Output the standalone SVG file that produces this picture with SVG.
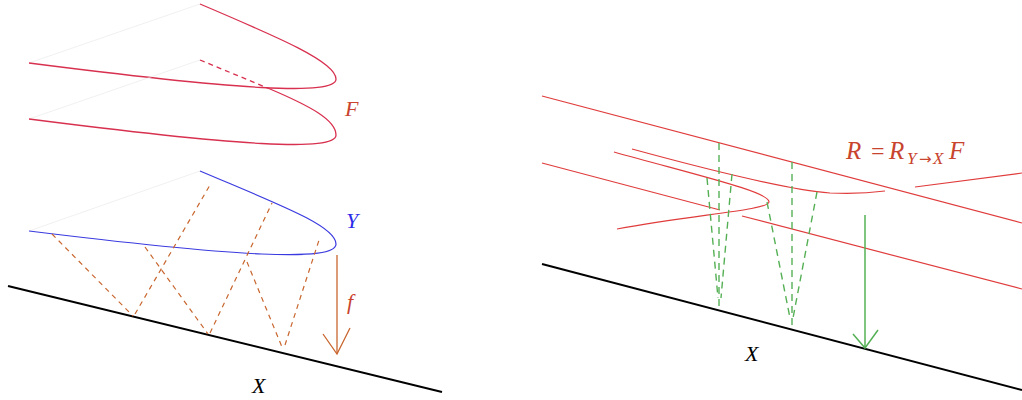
<svg xmlns="http://www.w3.org/2000/svg" width="1022" height="400" viewBox="0 0 1022 400">
<style>
.bg{fill:#ffffff}
.faint{fill:none;stroke:#e6e6e6;stroke-width:0.6}
.sheetF{fill:none;stroke:#d8304f;stroke-width:1.3}
.sheetY{fill:none;stroke:#3a3ae0;stroke-width:1.2}
.base{fill:none;stroke:#000000;stroke-width:2}
.odash{fill:none;stroke:#c8662e;stroke-width:1.2;stroke-dasharray:5 4.5}
.oline{fill:none;stroke:#c8662e;stroke-width:1.3}
.rline{fill:none;stroke:#e03c3c;stroke-width:1.2}
.gdash{fill:none;stroke:#55b055;stroke-width:1.4;stroke-dasharray:7 5}
.gline{fill:none;stroke:#55b055;stroke-width:1.5}
.lbl{font-family:"Liberation Serif","DejaVu Serif",serif;font-style:italic;font-size:22px}
.big{font-family:"Liberation Serif","DejaVu Serif",serif;font-style:italic;font-size:25px}
.sub{font-family:"Liberation Serif","DejaVu Serif",serif;font-style:italic;font-size:17px}
.up{font-family:"Liberation Serif","DejaVu Serif",serif;font-style:normal;font-size:24px}
.upsub{font-family:"DejaVu Sans","Liberation Sans",sans-serif;font-style:normal;font-size:15px}
</style>
<rect class="bg" x="0" y="0" width="1022" height="400"/>

<g id="left-panel">
  <g id="sheet-F1">
    <line class="faint" x1="29" y1="63" x2="200" y2="4"/>
    <path class="sheetF" d="M200,4 C280,38 336,62 336,79 C336,96 240,90 29,63"/>
  </g>
  <g id="sheet-F2">
    <line class="faint" x1="29" y1="119" x2="200" y2="60"/>
    <path class="sheetF" stroke-dasharray="5 4" d="M200,60 L270,89"/>
    <path class="sheetF" d="M270,89 C310,106 336,120 336,135 C336,152 240,146 29,119"/>
  </g>
  <g id="sheet-Y">
    <line class="faint" x1="29" y1="231" x2="200" y2="171"/>
    <path class="sheetY" d="M200,171 C280,205 336,226 336,244 C336,262 240,257 29,231"/>
  </g>
  <g id="base-X-left">
    <line class="base" x1="8" y1="286" x2="442" y2="392"/>
  </g>
  <g id="connectors-left">
    <line class="odash" x1="52" y1="234" x2="133" y2="316"/>
    <line class="odash" x1="135" y1="314" x2="210" y2="185"/>
    <line class="odash" x1="145" y1="247" x2="208" y2="334"/>
    <line class="odash" x1="210" y1="333" x2="272" y2="203"/>
    <line class="odash" x1="247" y1="262" x2="282" y2="347"/>
    <line class="odash" x1="285" y1="345" x2="320" y2="237"/>
    <g id="arrow-f">
      <line class="oline" x1="337" y1="255" x2="337" y2="354"/>
      <polyline class="oline" points="323,334 337,354 350,328"/>
    </g>
  </g>
  <text class="lbl" x="345" y="116" fill="#c8442e">F</text>
  <text class="lbl" x="346" y="228" fill="#2a2ae8">Y</text>
  <text class="lbl" x="347" y="309" fill="#c8442e">f</text>
  <text class="lbl" x="252" y="393" fill="#000000">X</text>
</g>

<g id="right-panel">
  <g id="sheet-R">
    <line class="rline" x1="542" y1="96" x2="1022" y2="223"/>
    <line class="rline" x1="542" y1="163" x2="720" y2="210"/>
    <path class="rline" d="M614,152 C700,176 770,192 769,202 C768,210 700,214 617,229"/>
    <path class="rline" d="M632,149 C720,173 790,190 830,193 C850,194 870,193 885,191"/>
    <line class="rline" x1="915" y1="187" x2="1022" y2="173"/>
    <line class="rline" x1="742" y1="216" x2="1022" y2="289"/>
  </g>
  <g id="base-X-right">
    <line class="base" x1="542" y1="264" x2="1022" y2="390"/>
  </g>
  <g id="connectors-right">
    <line class="gdash" x1="719" y1="143" x2="719" y2="310"/>
    <line class="gdash" x1="707" y1="178" x2="718" y2="298"/>
    <line class="gdash" x1="732" y1="174" x2="721" y2="298"/>
    <line class="gdash" x1="792" y1="162" x2="792" y2="329"/>
    <line class="gdash" x1="767" y1="202" x2="790" y2="318"/>
    <line class="gdash" x1="817" y1="192" x2="793" y2="318"/>
    <g id="arrow-R">
      <line class="gline" x1="865" y1="215" x2="865" y2="348"/>
      <polyline class="gline" points="853,334 865,348 878,330"/>
    </g>
  </g>
  <text y="159" fill="#c8442e"><tspan class="big" x="846">R</tspan><tspan class="up" x="871">=</tspan><tspan class="big" x="889">R</tspan><tspan class="sub" x="907" y="164">Y</tspan><tspan class="upsub" x="919" y="164">→</tspan><tspan class="sub" x="933" y="164">X</tspan><tspan class="big" x="949" y="159">F</tspan></text>
  <text class="lbl" x="745" y="361" fill="#000000">X</text>
</g>
</svg>
